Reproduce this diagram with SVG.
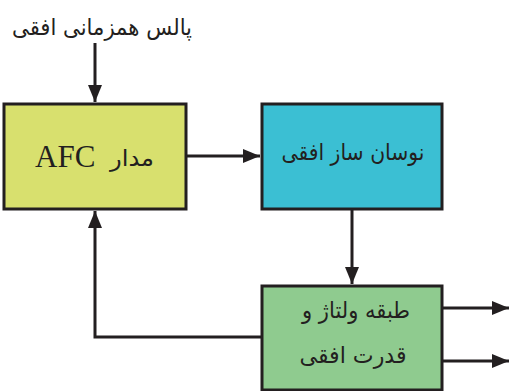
<svg xmlns="http://www.w3.org/2000/svg" width="509" height="391" viewBox="0 0 509 391">
<style>
.box{stroke:#231f20;stroke-width:3}
.ln{stroke:#231f20;stroke-width:3;fill:none}
.fa{font-family:"DejaVu Sans",sans-serif;font-size:23px;fill:#231f20;text-anchor:middle}
.en{font-family:"Liberation Serif",serif;font-size:31px;fill:#231f20}
</style>
<defs>
<marker id="ah" markerUnits="userSpaceOnUse" markerWidth="18" markerHeight="14" refX="17" refY="7" orient="auto">
<path d="M0,0 L17,7 L0,14 Z" fill="#231f20"/>
</marker>
</defs>
<rect width="509" height="391" fill="#ffffff"/>
<g id="connectors">
<line class="ln" x1="95" y1="43" x2="95" y2="102" marker-end="url(#ah)"/>
<line class="ln" x1="186" y1="156" x2="260" y2="156" marker-end="url(#ah)"/>
<line class="ln" x1="352" y1="209" x2="352" y2="284" marker-end="url(#ah)"/>
<line class="ln" x1="442" y1="308" x2="509" y2="308" marker-end="url(#ah)"/>
<line class="ln" x1="442" y1="361" x2="509" y2="361" marker-end="url(#ah)"/>
<polyline class="ln" points="262,337 95,337 95,211" marker-end="url(#ah)"/>
</g>
<g id="input-label">
<text class="fa" x="102" y="35" direction="rtl" textLength="180" lengthAdjust="spacingAndGlyphs">پالس همزمانی افقی</text>
</g>
<g id="afc">
<rect class="box" x="4" y="104" width="182" height="105" fill="#d8e06e"/>
<text class="en" x="35" y="167">AFC</text>
<text class="fa" x="132" y="166" direction="rtl" textLength="44" lengthAdjust="spacingAndGlyphs">مدار</text>
</g>
<g id="oscillator">
<rect class="box" x="262" y="104" width="180" height="105" fill="#3bbfd3"/>
<text class="fa" x="353" y="160" direction="rtl" textLength="143" lengthAdjust="spacingAndGlyphs">نوسان ساز افقی</text>
</g>
<g id="output-stage">
<rect class="box" x="262" y="286" width="180" height="104" fill="#8fcb8f"/>
<text class="fa" x="356" y="318" direction="rtl" textLength="108" lengthAdjust="spacingAndGlyphs">طبقه ولتاژ و</text>
<text class="fa" x="353" y="363" direction="rtl" textLength="107" lengthAdjust="spacingAndGlyphs">قدرت افقی</text>
</g>
</svg>
